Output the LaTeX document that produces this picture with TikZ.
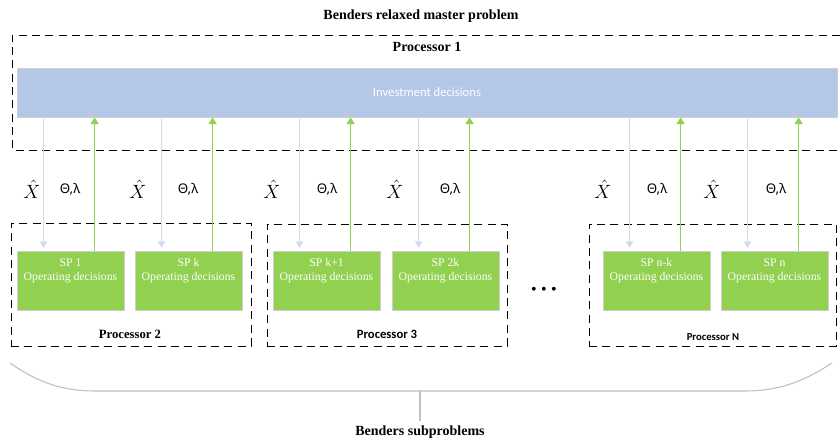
\documentclass[tikz,border=0pt]{standalone}
\usepackage{fontspec}
\setmainfont{Liberation Serif}
\newfontfamily\calibri{Carlito}
\newfontfamily\symfnt{Noto Sans}
\usetikzlibrary{arrows.meta,fit,positioning}
\definecolor{barblue}{HTML}{B4C7E7}
\definecolor{spgreen}{HTML}{92D050}
\definecolor{linkblue}{HTML}{CFDBF1}
\definecolor{rimgray}{HTML}{CFCFCF}
\definecolor{bracegray}{HTML}{BFBFBF}

\begin{document}
\begin{tikzpicture}[x=0.75pt,y=-0.75pt,
      frame/.style={draw,dash pattern=on 6pt off 4pt,line width=0.65pt},
      spbox/.style={draw=rimgray,line width=0.6pt,fill=spgreen,text=white,
                    minimum width=80.25pt,minimum height=44.25pt,align=center,
                    font=\fontsize{8.8}{10.5}\selectfont,text depth=17pt},
      xdown/.style={draw=linkblue,line width=0.8pt,shorten >=2pt,
                    -{Triangle[length=5pt,width=5.5pt]}},
      thup/.style={draw=spgreen,line width=1.1pt,-{Triangle[length=5pt,width=6pt]}},
      xlab/.style={font=\fontsize{13.5}{15}\selectfont},
      tlab/.style={font=\symfnt\fontsize{10}{12}\selectfont},
      ttl/.style={font=\bfseries\fontsize{10.5}{12}\selectfont}]
    \useasboundingbox (0,0) rectangle (840,442);
    \node[ttl] (rmp) at (421,16) {Benders relaxed master problem};
    \draw[frame] (840,35) -| (12,150) -- (840,150);
    \node[ttl] (p1lab) at (427,47) {Processor 1};
    \node[fill=barblue,draw=rimgray,line width=0.6pt,
          fit={(17,68) (837,117)},inner sep=0pt] (inv) {};
    \node[text=white,font=\calibri\fontsize{9.5}{11}\selectfont] (invlab) at (inv.center) {Investment decisions};

    \node[frame,fit={(11,223) (251,346)},inner sep=0pt] (p2) {};
    \node[frame,fit={(267,224) (507,346)},inner sep=0pt] (p3) {};
    \node[frame,fit={(589,224) (836,346)},inner sep=0pt] (pN) {};
    \node[font=\bfseries\fontsize{9.5}{11}\selectfont] (p2lab) at (130,334) {Processor 2};
    \node[font=\calibri\bfseries\fontsize{9.5}{11}\selectfont] (p3lab) at (387,334) {Processor 3};
    \node[font=\calibri\bfseries\fontsize{8}{10}\selectfont] (pNlab) at (713,337) {Processor N};
    \node[font=\fontsize{12}{14}\selectfont] (dots) at (544,291)
      {\textbullet\hspace{3.3pt}\textbullet\hspace{3.3pt}\textbullet};

    \foreach \n/\cx/\lbl in {1/70.5/1,2/188.5/k,3/326.5/k+1,4/445.5/2k,5/656.5/n-k,6/774.5/n}
      \node[spbox] (sp\n) at (\cx,280.5) {SP \lbl\\Operating decisions};

    \foreach \n in {1,...,6}{
      \coordinate (dn\n) at ([xshift=20.25pt]sp\n.north west);
      \coordinate (up\n) at ([xshift=58.5pt]sp\n.north west);
      \draw[xdown] (dn\n |- inv.south) -- (dn\n);
      \draw[thup] (up\n) -- (up\n |- inv.south);
    }

    \foreach \n/\xa/\xb in {1/32/70,2/138/188,3/272/327,4/395/450,5/603/657,6/712/776}{
      \node[xlab] (xh\n) at (\xa,189) {$\hat{X}$};
      \node[tlab] (tl\n) at (\xb,189) {Θ,λ};
    }

    \coordinate (brc) at (420,391);
    \node[ttl] (sub) at (420,432) {Benders subproblems};
    \draw[bracegray,line width=0.8pt] (10,363) .. controls (40,384) and (65,391) .. (95,391)
      -- (brc) -- (745,391) .. controls (775,391) and (800,384) .. (832,363);
    \draw[bracegray,line width=0.8pt] (brc) -- (brc |- sub.north);
  \end{tikzpicture}
\end{document}
